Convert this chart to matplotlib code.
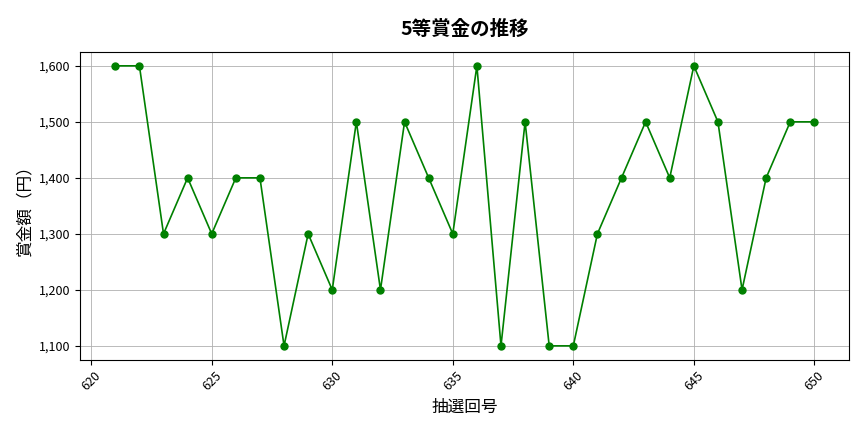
import matplotlib
matplotlib.use("Agg")
import matplotlib.pyplot as plt
from matplotlib.ticker import FuncFormatter

plt.rcParams['font.family'] = ['Noto Sans CJK JP', 'DejaVu Sans']

draws = list(range(621, 651))
prizes = [1600, 1600, 1300, 1400, 1300, 1400, 1400, 1100, 1300, 1200,
          1500, 1200, 1500, 1400, 1300, 1600, 1100, 1500, 1100, 1100,
          1300, 1400, 1500, 1400, 1600, 1500, 1200, 1400, 1500, 1500]

fig, ax = plt.subplots(figsize=(8.64, 4.32), dpi=100)
ax.plot(draws, prizes, marker='o', color='green', markersize=5, linewidth=1.2)
ax.set_title("5等賞金の推移", fontsize=14, fontweight='bold', pad=12)
ax.set_xlabel("抽選回号", fontsize=12, labelpad=4)
ax.set_ylabel("賞金額（円）", fontsize=12)
ax.yaxis.set_major_formatter(FuncFormatter(lambda v, p: f"{int(v):,}"))
ax.set_xticks(range(620, 651, 5))
ax.tick_params(axis='x', rotation=45, labelsize=9)
ax.tick_params(axis='y', labelsize=9)
ax.grid(True, color='#b0b0b0', linewidth=0.6)
plt.subplots_adjust(left=0.093, right=0.983, top=0.88, bottom=0.167)
fig.savefig("out.png")
